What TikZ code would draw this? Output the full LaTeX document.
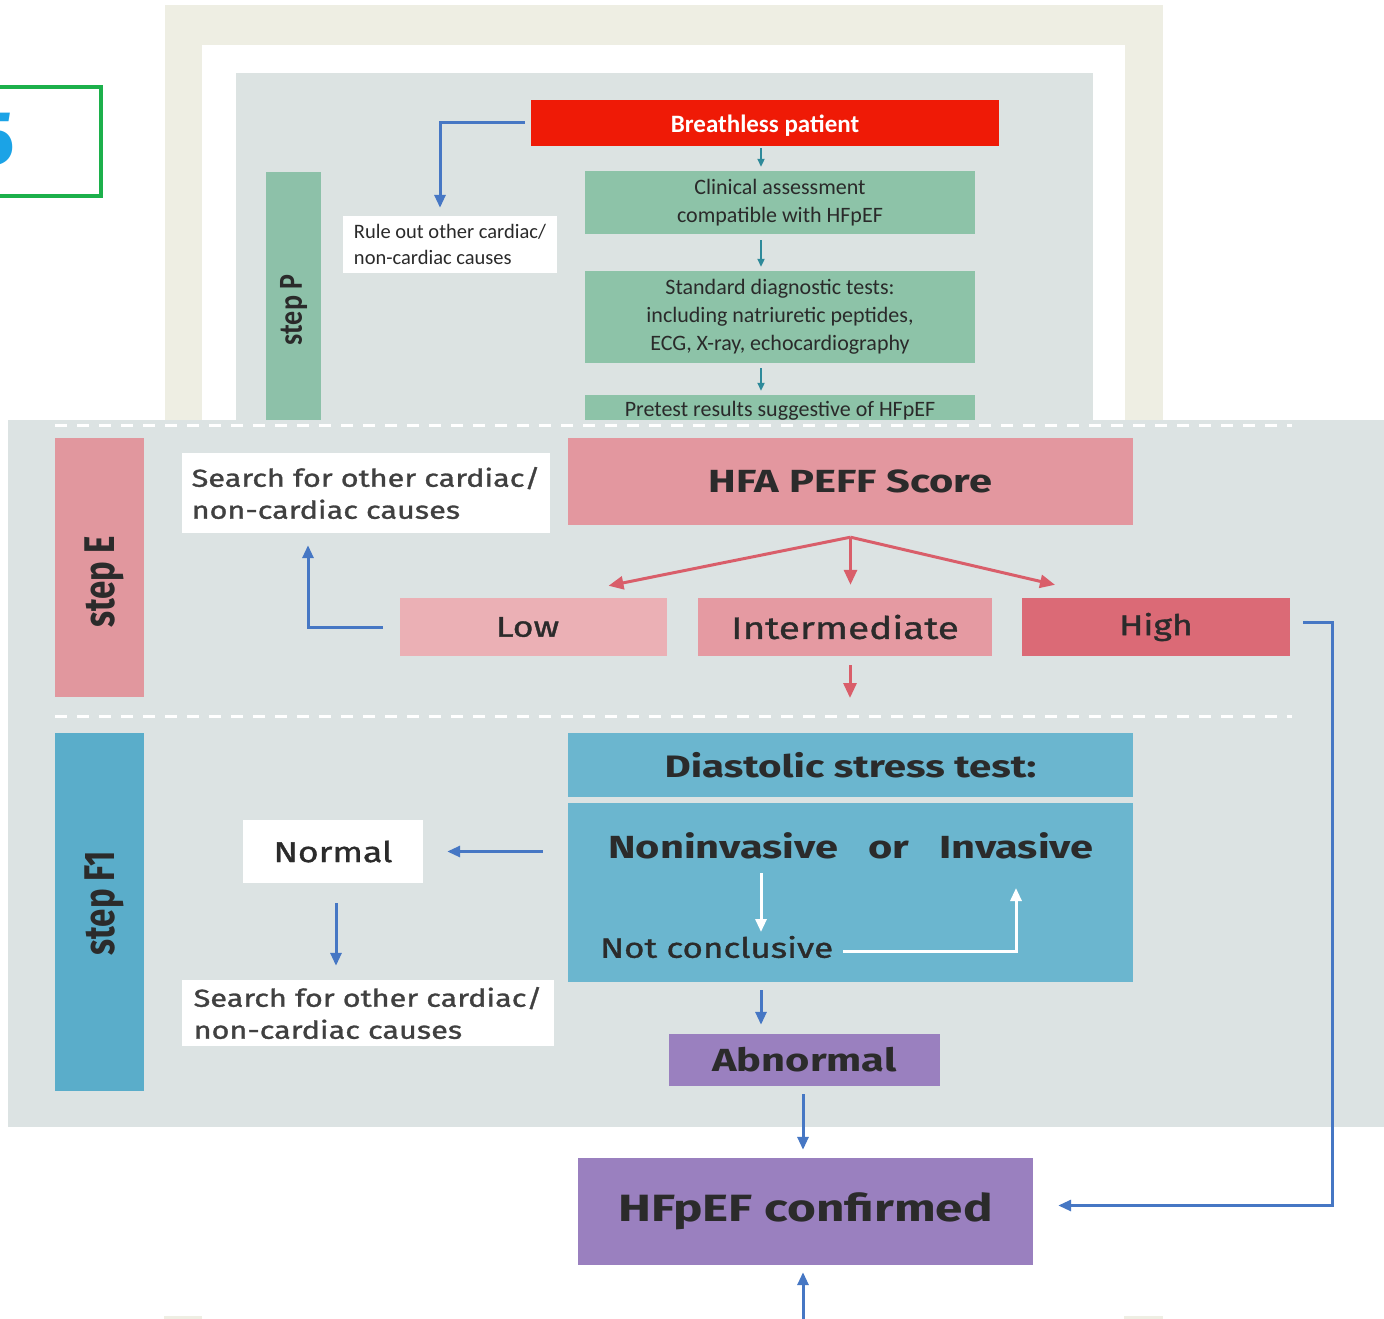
\documentclass[tikz,border=0pt]{standalone}
\usepackage{fontspec}
\setmainfont{Fira Sans}
\newfontfamily\upf{Carlito}
\newfontfamily\lowf[FakeStretch=1.3]{Fira Sans}
\newfontfamily\lowm[FakeStretch=1.25,FakeBold=1.2]{Fira Sans}
\usetikzlibrary{arrows.meta,calc}
\definecolor{beige}{HTML}{EEEEE3}
\definecolor{panelup}{HTML}{DCE3E2}
\definecolor{panellow}{HTML}{DCE3E3}
\definecolor{stepPc}{HTML}{8DC1A9}
\definecolor{greenbox}{HTML}{8DC3A8}
\definecolor{redbox}{HTML}{EF1A06}
\definecolor{stepEc}{HTML}{E1979E}
\definecolor{peffc}{HTML}{E3979F}
\definecolor{lowc}{HTML}{EBB0B5}
\definecolor{interc}{HTML}{E59AA2}
\definecolor{highc}{HTML}{DB6A76}
\definecolor{stepFc}{HTML}{5AADCA}
\definecolor{diastc}{HTML}{6BB6CF}
\definecolor{purplec}{HTML}{9A80BF}
\definecolor{arrblue}{HTML}{4677C4}
\definecolor{arrred}{HTML}{D95E6A}
\definecolor{tealc}{HTML}{2E8A9A}
\definecolor{outlinegreen}{HTML}{1CB04B}
\definecolor{cyanfive}{HTML}{1BA3E6}
\definecolor{uptext}{HTML}{2A2A2A}
\definecolor{lowtext}{HTML}{2B2B2B}
\definecolor{greytext}{HTML}{404040}
\begin{document}
\begin{tikzpicture}[x=1pt,y=-1pt,
  upbox/.style={inner sep=0pt, align=center, text=uptext, font=\upf\fontsize{22}{28}\selectfont},
  lowbox/.style={inner sep=0pt, align=center, text=lowtext, font=\lowm\fontsize{28.5}{32}\selectfont},
  lowbold/.style={lowbox, font=\lowf\bfseries\fontsize{32}{36}\selectfont},
  steptext/.style={inner sep=0pt, text=lowtext},
  whitebox/.style={fill=white, inner sep=0pt},
  bluearr/.style={draw=arrblue, line width=3pt, -{Triangle[length=13pt,width=11pt]}},
  redarr/.style={draw=arrred, line width=3pt, -{Triangle[length=15pt,width=13pt]}},
  tealarr/.style={draw=tealc, line width=2pt, -{Triangle[length=8pt,width=7pt]}},
  whitearr/.style={draw=white, line width=3pt, -{Triangle[length=13pt,width=11pt]}},
  dashline/.style={draw=white, line width=3pt, dash pattern=on 12pt off 10pt}
]
\useasboundingbox (0,0) rectangle (1384,1319);
\fill[white] (0,0) rectangle (1384,1319);

% ---------- background screenshot (step P) ----------
\fill[beige] (165,5) rectangle (1163,420);
\fill[white] (202,45) rectangle (1125,420);
\fill[panelup] (236,73) rectangle (1093,420);
\fill[beige] (164,1316) rectangle (202,1319);
\fill[beige] (1124,1316) rectangle (1163,1319);

\draw[outlinegreen, line width=4pt] (-10,87) rectangle (101,196);
\begin{scope}
  \clip (0,0) rectangle (1384,1319);
  \node[anchor=east, inner sep=0pt, text=cyanfive, font=\bfseries\fontsize{76}{76}\selectfont] (five) at (15,139) {5};
\end{scope}

\node[fill=stepPc, minimum width=55pt, minimum height=276pt, inner sep=0pt, text=uptext] (stepP) at (293.5,310)
  {\rotatebox{90}{\scalebox{1}[1.2]{\upf\bfseries\fontsize{28}{28}\selectfont step P}}};

\node[fill=redbox, minimum width=468pt, minimum height=46pt, inner sep=0pt, text=white, text height=20pt, text depth=0pt,
      font=\upf\bfseries\fontsize{25}{28}\selectfont] (red) at (765,123) {Breathless patient};
\node[whitebox, minimum width=214pt, minimum height=57pt, upbox, align=left,
      font=\upf\fontsize{20.5}{26}\selectfont] (rule) at (450,244.5) {Rule out other cardiac/\\non-cardiac causes};
\node[fill=greenbox, minimum width=390pt, minimum height=63pt, upbox] (clin) at (780,202.5)
  {Clinical assessment\\compatible with HFpEF};
\node[fill=greenbox, minimum width=390pt, minimum height=92pt, upbox] (std) at (780,317)
  {Standard diagnostic tests:\\including natriuretic peptides,\\ECG, X-ray, echocardiography};
\node[fill=greenbox, minimum width=390pt, minimum height=32pt, upbox] (pre) at (780,411)
  {Pretest results suggestive of HFpEF};

\draw[bluearr, shorten <=6pt, shorten >=8pt] (red.west) -| ([xshift=-10pt]rule.north);
\draw[tealarr, shorten <=2pt, shorten >=4pt] ([xshift=-4pt]red.south) -- ([xshift=-19pt]clin.north);
\draw[tealarr, shorten <=6pt, shorten >=4pt] ([xshift=-19pt]clin.south) -- ([xshift=-19pt]std.north);
\draw[tealarr, shorten <=5pt, shorten >=4pt] ([xshift=-19pt]std.south) -- ([xshift=-19pt]pre.north);

% ---------- front panel ----------
\fill[panellow] (8,420) rectangle (1384,1127);
\path[dashline] (55,425) -- (1292,425);
\path[dashline] (55,716) -- (1292,716);

% step E
\node[fill=stepEc, minimum width=89pt, minimum height=259pt, inner sep=0pt] (stepE) at (99.5,567.5) {};
\node[steptext] (stepEt) at (104,582)
  {\rotatebox{90}{\scalebox{1}[1.3]{\bfseries\fontsize{33}{33}\selectfont step E}}};
\node[whitebox, minimum width=368pt, minimum height=80pt, lowbox, align=left, text=greytext,
      font=\lowm\fontsize{24.5}{32}\selectfont] (search1) at (366,493)
  {Search for other cardiac/\\non-cardiac causes};
\node[fill=peffc, minimum width=565pt, minimum height=87pt, lowbold] (peff) at (850.5,481.5) {HFA PEFF Score};
\node[fill=lowc, minimum width=267pt, minimum height=58pt, lowbox] (low) at (533.5,627) {\hspace*{-12pt}Low};
\node[fill=interc, minimum width=294pt, minimum height=58pt, lowbox, font=\lowm\fontsize{31}{32}\selectfont] (inter) at (845,627) {Intermediate};
\node[fill=highc, minimum width=268pt, minimum height=58pt, lowbox] (high) at (1156,627) {High};

\coordinate (fork) at ($(peff.south)+(0,12)$);
\draw[redarr] (fork) -- ([xshift=75pt,yshift=12pt]low.north);
\draw[redarr] (fork) -- ([yshift=13pt]fork |- inter.north);
\draw[redarr] (fork) -- ([xshift=-101pt,yshift=13pt]high.north);
\coordinate (interend) at (850,698);
\draw[redarr, shorten <=9pt] (inter.south -| interend) -- (interend);

\draw[bluearr, shorten <=17pt, shorten >=12pt] (low.west) -| ([xshift=-58pt]search1.south);

% step F1
\node[fill=stepFc, minimum width=89pt, minimum height=358pt, inner sep=0pt] (stepF) at (99.5,912) {};
\node[steptext] (stepFt) at (104,903)
  {\rotatebox{90}{\scalebox{1}[1.3]{\bfseries\fontsize{33}{33}\selectfont step F1}}};
\node[fill=diastc, minimum width=565pt, minimum height=64pt, lowbold, font=\lowf\bfseries\fontsize{31}{34}\selectfont] (diast) at (850.5,765)
  {Diastolic stress test:};
\node[fill=diastc, minimum width=565pt, minimum height=179pt, inner sep=0pt] (noninv) at (850.5,892.5) {};
\node[lowbold] (ninv) at (851,846) {Noninvasive\hspace{30pt}or\hspace{30pt}Invasive};
\node[lowbox, anchor=west, font=\lowm\fontsize{28}{32}\selectfont] (nc) at (600,947) {Not conclusive};
\coordinate (wdown1) at (761,873);
\coordinate (wdown2) at (761,932);
\draw[whitearr] (wdown1) -- (wdown2);
\coordinate (wup) at (1016,888);
\draw[whitearr, shorten <=10pt] (nc.east |- 0,951) -| (wup);

\node[whitebox, minimum width=180pt, minimum height=63pt, lowbox] (normal) at (333,851.5) {Normal};
\node[whitebox, minimum width=372pt, minimum height=66pt, lowbox, align=left, text=greytext,
      font=\lowm\fontsize{24.5}{32}\selectfont] (search2) at (368,1013)
  {Search for other cardiac/\\non-cardiac causes};
\node[fill=purplec, minimum width=271pt, minimum height=52pt, lowbold] (abn) at (804.5,1060) {Abnormal};
\node[fill=purplec, minimum width=455pt, minimum height=107pt, lowbold, font=\lowf\bfseries\fontsize{38}{40}\selectfont] (conf) at (805.5,1211.5)
  {HFpEF confirmed};

\draw[bluearr, shorten <=25pt, shorten >=24pt] (noninv.west |- normal.east) -- (normal.east);
\draw[bluearr, shorten <=20pt, shorten >=14pt] ([xshift=3pt]normal.south) -- ([xshift=3pt]normal.south |- search2.north);
\draw[bluearr, shorten <=8pt, shorten >=9pt] ([xshift=-43.5pt]abn.north |- noninv.south) -- ([xshift=-43.5pt]abn.north);
\draw[bluearr, shorten <=8pt, shorten >=8pt] ([xshift=-1.5pt]abn.south) -- ([xshift=-2.5pt]conf.north);
\coordinate (hc) at (1332,622);
\draw[bluearr, shorten <=13pt, shorten >=25pt] ([yshift=5pt]high.east) -- (hc) |- ([yshift=6pt]conf.east);
\coordinate (bot) at (803,1330);
\draw[bluearr, shorten >=7pt] (bot) -- (bot |- conf.south);
\end{tikzpicture}
\end{document}
